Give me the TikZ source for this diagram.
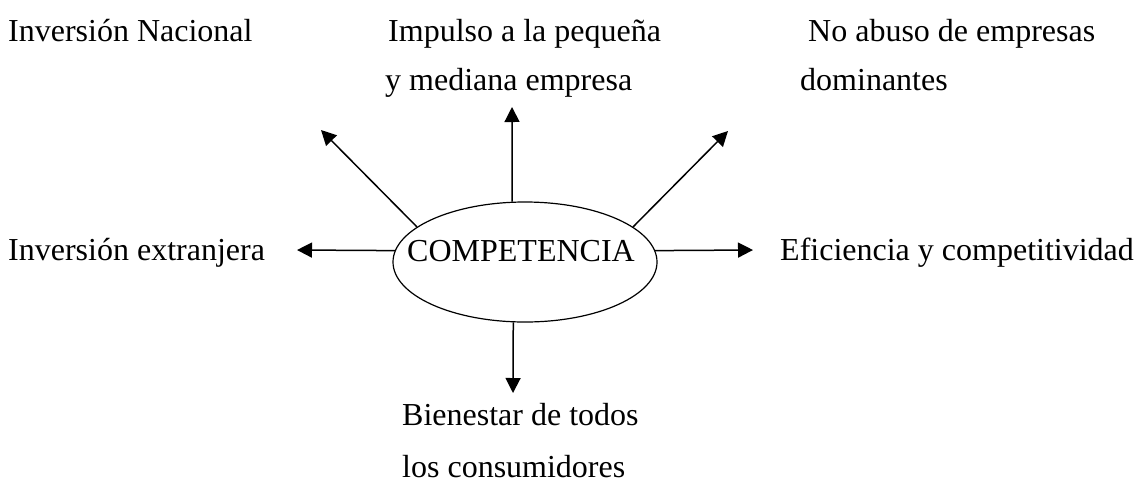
\documentclass[tikz,border=0pt]{standalone}
\usepackage{fontspec}
\setmainfont{Liberation Serif}
\usetikzlibrary{shapes.geometric,arrows.meta}
\begin{document}
\begin{tikzpicture}[x=1pt,y=-1pt]
    \tikzstyle{txt}=[anchor=base west, inner sep=0pt, align=left, font=\fontsize{32}{49}\selectfont]
    \tikzstyle{arr}=[-{Triangle[length=15pt,width=15pt]}, line width=1.5pt]
    \useasboundingbox (0,0) rectangle (1142,483);

    \node[ellipse, draw, line width=1.2pt, minimum width=264pt, minimum height=120pt, inner sep=0pt] (comp) at (525,262) {};
    \node[anchor=base, inner sep=0pt, font=\fontsize{32}{38}\selectfont] (compt) at (521,261) {COMPETENCIA};

    % base anchor of a two-line node sits on its last line
    \node[txt] (nacional) at (8,41) {Inversión Nacional};
    \node[txt] (pyme) at (385,90) {\hspace*{3pt}Impulso a la pequeña\\y mediana empresa};
    \node[txt] (abuso) at (800,90) {\hspace*{8pt}No abuso de empresas\\dominantes};
    \node[txt] (extranjera) at (8,260) {Inversión extranjera};
    \node[txt] (eficiencia) at (780,260) {Eficiencia y competitividad};
    \node[txt] (bienestar) at (402,477) {Bienestar de todos\\[3pt]los consumidores};

    \coordinate (tN) at (512,107);
    \coordinate (tNW) at (321,130);
    \coordinate (tNE) at (728,131);
    \coordinate (tW) at (297,250);
    \coordinate (tE) at (753,250);
    \coordinate (tS) at (513,393);

    \draw[arr] (comp.102) -- (tN);
    \draw[arr] (comp.162) -- (tNW);
    \draw[arr] (comp.18) -- (tNE);
    \draw[arr] (comp.175) -- (tW);
    \draw[arr] (comp.5) -- (tE);
    \draw[arr] (comp.259) -- (tS);
  \end{tikzpicture}
\end{document}
